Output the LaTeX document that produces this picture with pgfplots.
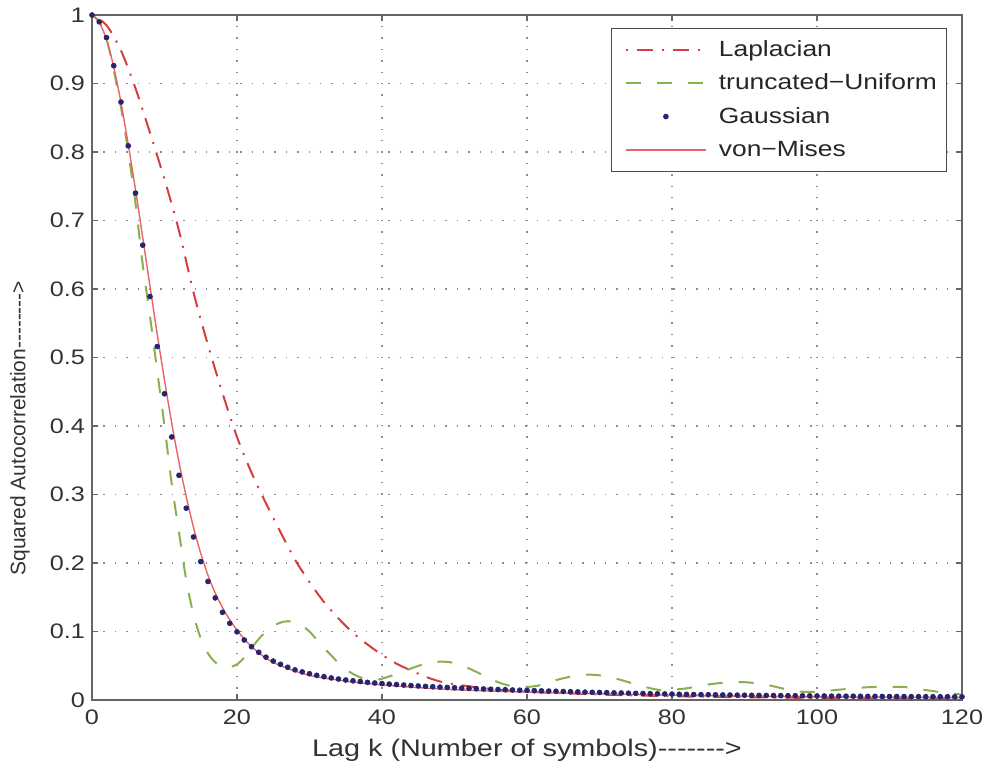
\documentclass[border=0pt]{standalone}
\usepackage{fontspec}
\setmainfont{Liberation Sans}[FakeStretch=1.2]
\newfontfamily\ylabfont{Liberation Sans}
\usepackage{pgfplots}
\pgfplotsset{compat=1.18}
\definecolor{lapl}{RGB}{214,62,62}
\definecolor{unif}{RGB}{138,176,78}
\definecolor{gaus}{RGB}{38,38,112}
\definecolor{vmis}{RGB}{232,100,100}
\newcommand\hy{-\kern0pt}
\pgfplotsset{
  linelegend/.style={legend image code/.code={\path (-4pt,0pt) (44pt,0pt);\draw[##1] (0pt,0pt) -- (40pt,0pt);}},
  dotlegend/.style={legend image code/.code={\path (-4pt,0pt) (44pt,0pt);\draw[mark repeat=2,mark phase=2,##1] plot coordinates {(0pt,0pt)(20pt,0pt)(40pt,0pt)};}},
}

\begin{document}
\begin{tikzpicture}
\useasboundingbox (-46pt,-37.5pt) rectangle (445pt,350pt);
\begin{axis}[
  width=435pt, height=342.5pt, scale only axis,
  xmin=0, xmax=120, ymin=0, ymax=1,
  xtick={0,20,40,60,80,100,120},
  ytick={0,0.1,0.2,0.3,0.4,0.5,0.6,0.7,0.8,0.9,1},
  tick align=inside, tick pos=both, major tick length=3pt,
  axis line style={black!60, line width=0.6pt},
  every tick/.style={black!60, line width=0.6pt},
  grid=major,
  major grid style={black!45, line width=0.6pt, dash pattern=on 0.7pt off 5pt},
  /pgf/number format/assume math mode=true,
  ticklabel style={font=\fontsize{10.5}{12}\selectfont, text=black!80},
  xticklabel style={yshift=-1.5pt},
  xlabel={Lag k (Number of symbols)\hy\hy\hy\hy\hy\hy\hy>},
  xlabel style={font=\fontsize{12}{14}\selectfont, text=black!80,
    at={(axis description cs:0.5,0)}, anchor=center, yshift=-25pt},
  ylabel={\ylabfont Squared Autocorrelation\hy\hy\hy\hy\hy\hy\hy\hy>},
  ylabel style={font=\fontsize{10.5}{12}\selectfont, text=black!80,
    at={(axis description cs:-0.0828,0.397)}, anchor=center},
  legend style={at={(rel axis cs:0.983,0.981)}, anchor=north east,
    draw=black!70, fill=white,
    font=\fontsize{11}{12.5}\selectfont, text=black!85,
    row sep=3.2pt, inner xsep=3pt, inner ysep=4pt},
  legend cell align=left,
]
% Laplacian
\addplot[lapl, line width=1pt, smooth, dash pattern=on 1pt off 4.5pt on 8pt off 4.5pt, linelegend] coordinates {
(0,1.0)(2,0.985)(4,0.948)(6,0.893)(8,0.828)(10,0.760)(12,0.685)(14,0.595)
(16,0.518)(18,0.448)(20,0.384)(22,0.332)(24,0.287)(26,0.245)(28,0.205)
(30,0.172)(32,0.143)(34,0.119)(36,0.098)(38,0.081)(40,0.066)(42,0.053)
(44,0.043)(46,0.034)(48,0.027)(50,0.023)(55,0.016)(60,0.012)(70,0.008)
(80,0.0055)(90,0.004)(100,0.003)(110,0.0022)(120,0.002)};
% truncated-Uniform
\addplot[unif, line width=1pt, smooth, dash pattern=on 7.5pt off 8pt, linelegend] coordinates {
(0,1.0)(1,0.99)(2,0.965)(3,0.92)(4,0.865)(5,0.80)(6,0.725)(7,0.635)(8,0.56)
(9,0.48)(10,0.40)(11,0.315)(12,0.245)(13,0.175)(14,0.125)(15,0.09)(16,0.068)
(17,0.055)(18,0.049)(19,0.048)(20,0.052)(21,0.062)(22,0.076)(23,0.089)
(24,0.100)(25,0.108)(26,0.113)(27,0.115)(28,0.113)(29,0.108)(30,0.100)
(31,0.088)(32,0.076)(33,0.065)(34,0.054)(35,0.045)(36,0.038)(37,0.033)
(38,0.030)(39,0.029)(40,0.031)(42,0.038)(44,0.046)(46,0.053)(48,0.056)
(50,0.054)(52,0.046)(54,0.036)(56,0.026)(58,0.020)(60,0.019)(62,0.022)
(64,0.029)(66,0.034)(68,0.037)(70,0.036)(72,0.032)(74,0.026)(76,0.020)
(78,0.015)(80,0.015)(82,0.017)(84,0.021)(86,0.024)(88,0.026)(90,0.026)
(92,0.024)(94,0.020)(96,0.015)(98,0.012)(100,0.012)(102,0.014)(104,0.016)
(106,0.018)(108,0.019)(110,0.019)(112,0.019)(114,0.016)(116,0.013)
(118,0.010)(120,0.008)};
% Gaussian
\addplot[gaus, only marks, mark=*, mark size=1.2pt, dotlegend] coordinates {
(0,1.0)(1,0.990)(2,0.967)(3,0.926)(4,0.873)(5,0.809)(6,0.740)(7,0.664)
(8,0.589)(9,0.516)(10,0.447)(11,0.384)(12,0.328)(13,0.280)(14,0.238)
(15,0.202)(16,0.173)(17,0.149)(18,0.128)(19,0.112)(20,0.0995)(21,0.0876)
(22,0.0778)(23,0.0696)(24,0.0625)(25,0.0568)(26,0.0521)(27,0.0478)
(28,0.0440)(29,0.0410)(30,0.0383)(31,0.0360)(32,0.0340)(33,0.0322)
(34,0.0306)(35,0.0292)(36,0.0280)(37,0.0269)(38,0.0258)(39,0.0248)
(40,0.0240)(41,0.0232)(42,0.0225)(43,0.0218)(44,0.0211)(45,0.0205)
(46,0.0199)(47,0.0193)(48,0.0188)(49,0.0183)(50,0.0178)(51,0.0173)
(52,0.0169)(53,0.0165)(54,0.0161)(55,0.0157)(56,0.0153)(57,0.0150)
(58,0.0146)(59,0.0143)(60,0.0140)(61,0.0136)(62,0.0133)(63,0.0130)
(64,0.0127)(65,0.0124)(66,0.0121)(67,0.0118)(68,0.0115)(69,0.0112)
(70,0.0110)(71,0.0107)(72,0.0104)(73,0.0102)(74,0.0099)(75,0.0097)
(76,0.0095)(77,0.0092)(78,0.0090)(79,0.0088)(80,0.0086)(81,0.0084)
(82,0.0082)(83,0.0080)(84,0.0078)(85,0.0077)(86,0.0075)(87,0.0074)
(88,0.0072)(89,0.0071)(90,0.0070)(91,0.0068)(92,0.0067)(93,0.0066)
(94,0.0065)(95,0.0064)(96,0.0063)(97,0.0062)(98,0.0061)(99,0.0060)
(100,0.0059)(101,0.0058)(102,0.0057)(103,0.0056)(104,0.0056)(105,0.0055)
(106,0.0054)(107,0.0053)(108,0.0053)(109,0.0052)(110,0.0051)(111,0.0051)
(112,0.0050)(113,0.0049)(114,0.0049)(115,0.0048)(116,0.0048)(117,0.0047)
(118,0.0047)(119,0.0046)(120,0.0046)};
% von-Mises
\addplot[vmis, line width=0.7pt, smooth, linelegend] coordinates {
(0,1.0)(1,0.989)(2,0.964)(3,0.924)(4,0.872)(5,0.811)(6,0.745)(7,0.675)
(8,0.604)(9,0.534)(10,0.467)(11,0.404)(12,0.347)(13,0.297)(14,0.252)
(15,0.214)(16,0.182)(17,0.156)(18,0.135)(19,0.117)(20,0.102)(21,0.089)
(22,0.078)(23,0.069)(24,0.061)(25,0.055)(26,0.050)(27,0.046)(28,0.042)
(30,0.036)(32,0.032)(34,0.029)(36,0.026)(38,0.024)(40,0.022)(45,0.018)
(50,0.015)(55,0.013)(60,0.0115)(70,0.009)(80,0.007)(90,0.0055)
(100,0.0045)(110,0.0038)(120,0.0033)};
\legend{Laplacian, truncated−Uniform, Gaussian, von−Mises}
\end{axis}
\end{tikzpicture}
\end{document}
